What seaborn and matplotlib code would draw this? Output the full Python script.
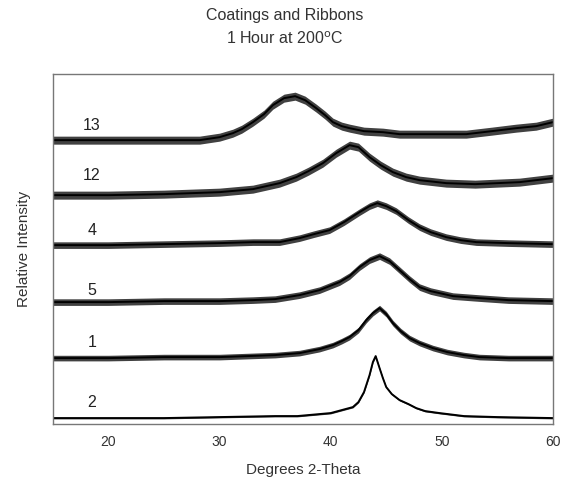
import numpy as np
import pandas as pd
import matplotlib
matplotlib.use("Agg")
import matplotlib.pyplot as plt
import seaborn as sns

# =============================================================================
# Data (arbitrary intensity units, traces already offset)
# =============================================================================
tt_13 = [15, 20, 25, 28.2, 30, 31.2, 32, 33, 34, 34.8, 35.8, 36.8, 37.7, 38.7, 39.5,
         40.2, 41, 41.7, 43, 44.7, 46.2, 49, 52.2, 54.5, 56.7, 58.5, 60]
int_13 = [284, 284, 284, 284, 287, 291, 295, 302, 310, 319, 326, 328, 324, 316, 309,
          302, 298, 296, 293, 292, 290, 290, 290, 293, 296, 298, 302]

tt_12 = [15, 20, 25, 30, 33, 35.4, 36.9, 38, 39.3, 40.5, 41.7, 42.5, 43.5, 44.5,
         45.6, 46.8, 48, 50.4, 53, 55, 57, 60]
int_12 = [229, 229, 230, 232, 235, 241, 247, 253, 261, 271, 279, 277, 267, 259,
          252, 247, 244, 241, 240, 241, 242, 246]

tt_4 = [15, 20, 25, 30, 33, 35.4, 37.2, 38.5, 39.9, 41.2, 42.6, 43.5, 44.2, 45,
        45.9, 47, 48, 49, 50.4, 51.7, 53.1, 56, 60]
int_4 = [179, 179, 180, 181, 182, 182, 186, 190, 194, 202, 212, 218, 221, 218,
         213, 204, 197, 192, 187, 184, 182, 181, 180]

tt_5 = [15, 20, 25, 30, 33, 35, 37.2, 39, 40.8, 41.7, 42.6, 43.5, 44.4, 45.3,
        46.2, 47.1, 48, 49, 49.8, 51, 53.4, 56, 60]
int_5 = [122, 122, 123, 123, 124, 125, 129, 134, 142, 148, 157, 164, 168, 163,
         154, 145, 137, 133, 131, 128, 126, 124, 123]

tt_1 = [15, 20, 25, 30, 35, 37.2, 39, 40.2, 41, 41.7, 42.5, 43.2, 43.8, 44.4, 45,
        45.6, 46.3, 47.1, 48, 49.2, 50.5, 52, 53.4, 56, 60]
int_1 = [66, 66, 67, 67, 69, 71, 75, 79, 83, 87, 94, 104, 111, 116, 110,
         101, 93, 86, 81, 76, 72, 69, 67, 66, 66]

tt_2 = [15, 20, 25, 30, 35, 37, 39, 40, 41, 42, 42.5, 43, 43.5, 43.8, 44.05, 44.4,
        44.7, 45, 45.5, 46.2, 47, 47.7, 48.5, 49.8, 52, 55, 60]
int_2 = [6, 6, 6, 7, 8, 8, 10, 11, 14, 17, 22, 32, 49, 62, 68, 56,
         46, 37, 30, 24, 20, 16, 13, 11, 8, 7, 6]

sample_names = ["13", "12", "4", "5", "1", "2"]
noise_halfwidth = [4.0, 4.0, 3.3, 3.3, 2.8, 0.8]
label_pos_y = [299, 249, 194, 134, 82, 22]

traces = [(tt_13, int_13), (tt_12, int_12), (tt_4, int_4),
          (tt_5, int_5), (tt_1, int_1), (tt_2, int_2)]

frames = []
for name, (tt, ii) in zip(sample_names, traces):
    frames.append(pd.DataFrame({"two_theta": tt, "intensity": ii, "sample": name}))
df = pd.concat(frames, ignore_index=True)

# =============================================================================
# Plot
# =============================================================================
sns.set_style("white")
plt.rcParams["font.family"] = ["Liberation Sans", "DejaVu Sans"]

fig = plt.figure(figsize=(5.63, 4.88), dpi=100)
ax = fig.add_axes([0.094, 0.131, 0.888, 0.717])

sns.lineplot(data=df, x="two_theta", y="intensity", units="sample",
             estimator=None, color="black", linewidth=1.4, ax=ax, sort=False)

# noisy band around each trace
for name, (tt, ii), nw in zip(sample_names, traces, noise_halfwidth):
    ii = np.array(ii, dtype=float)
    ax.fill_between(tt, ii - nw, ii + nw, color="#111111", alpha=0.8, linewidth=0)

for name, yl in zip(sample_names, label_pos_y):
    ax.text(18.5, yl, name, ha="center", va="center", fontsize=11.5, color="#222222")

ax.set_xlim(15, 60)
ax.set_ylim(0, 350)
ax.set_xticks([20, 30, 40, 50, 60])
ax.set_yticks([])
ax.tick_params(axis="x", direction="out", length=4, width=1, color="#555555",
               labelsize=10, labelcolor="#333333", pad=4)
for sp in ax.spines.values():
    sp.set_color("#777777")
    sp.set_linewidth(1.0)

ax.set_xlabel("Degrees 2-Theta", fontsize=11, color="#333333", labelpad=10)
ax.set_ylabel("Relative Intensity", fontsize=11, color="#333333", labelpad=16)

fig.text(0.505, 0.968, "Coatings and Ribbons", ha="center", va="center",
         fontsize=11.5, color="#333333")
fig.text(0.505, 0.921, r"1 Hour at 200$^{\rm o}$C", ha="center", va="center",
         fontsize=11.5, color="#333333")

fig.savefig("out.png", dpi=100)
